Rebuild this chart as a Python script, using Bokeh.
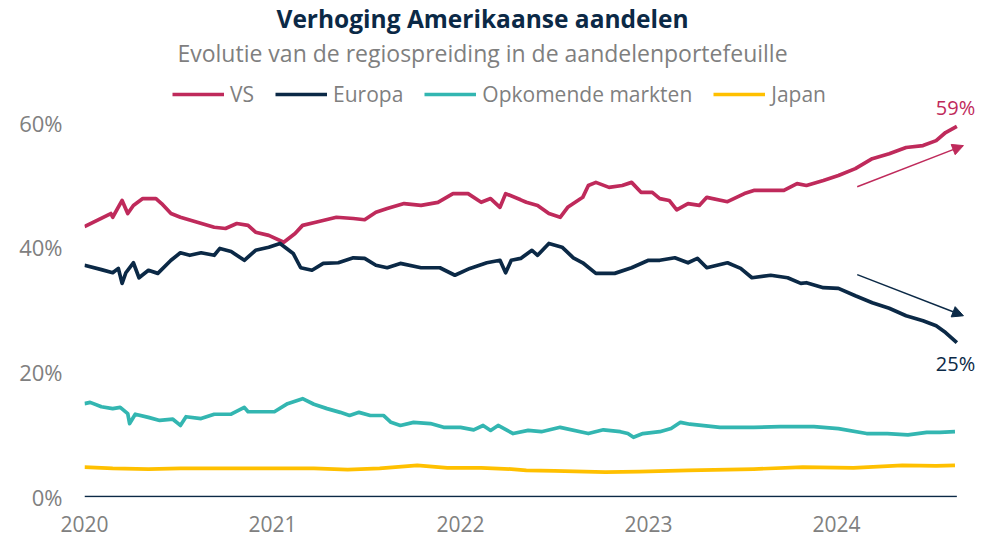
from bokeh.plotting import figure
from bokeh.models import (Range1d, FixedTicker, PrintfTickFormatter, Legend, LegendItem,
                          Label, Arrow, NormalHead)
from bokeh.embed import file_html
from bokeh.resources import INLINE

FONT = "Open Sans"
C_VS = "#BF2A5B"
C_EU = "#0B2946"
C_EM = "#33B6B1"
C_JP = "#FFC000"
GRAY = "#7F7F7F"

title_text = "Verhoging Amerikaanse aandelen"
subtitle_text = "Evolutie van de regiospreiding in de aandelenportefeuille"
series_names = ["VS", "Europa", "Opkomende markten", "Japan"]
year_ticks = [2020, 2021, 2022, 2023, 2024]
pct_ticks = [0, 20, 40, 60]

# time in decimal years, values in % of the equity portfolio
vs_t = [2020.00, 2020.14, 2020.15, 2020.20, 2020.23, 2020.26, 2020.31, 2020.38, 2020.41, 2020.46,
        2020.51, 2020.60, 2020.69, 2020.75, 2020.81, 2020.87, 2020.91, 2020.98, 2021.06, 2021.12,
        2021.16, 2021.23, 2021.34, 2021.43, 2021.49, 2021.55, 2021.61, 2021.70, 2021.79, 2021.88,
        2021.96, 2022.04, 2022.11, 2022.16, 2022.21, 2022.24, 2022.32, 2022.35, 2022.41, 2022.47,
        2022.53, 2022.57, 2022.65, 2022.68, 2022.72, 2022.79, 2022.86, 2022.91, 2022.96, 2023.02,
        2023.06, 2023.11, 2023.15, 2023.21, 2023.27, 2023.31, 2023.42, 2023.51, 2023.56, 2023.65,
        2023.72, 2023.79, 2023.84, 2023.93, 2024.01, 2024.10, 2024.19, 2024.28, 2024.37, 2024.46,
        2024.53, 2024.58, 2024.64]
vs_v = [43.3, 45.4, 44.8, 47.5, 45.4, 46.7, 47.8, 47.8, 47.0, 45.4,
        44.8, 44.0, 43.2, 43.0, 43.8, 43.5, 42.4, 41.9, 40.8, 42.2,
        43.5, 44.0, 44.8, 44.6, 44.4, 45.6, 46.2, 47.0, 46.7, 47.2,
        48.6, 48.6, 47.2, 47.8, 46.4, 48.6, 47.6, 47.2, 46.7, 45.4,
        44.8, 46.4, 48.0, 49.9, 50.4, 49.6, 49.9, 50.4, 48.8, 48.8,
        47.8, 47.5, 46.0, 47.0, 46.7, 48.0, 47.3, 48.6, 49.1, 49.1,
        49.1, 50.2, 49.9, 50.7, 51.5, 52.6, 54.2, 55.0, 56.0, 56.3,
        57.1, 58.4, 59.4]

eu_t = [2020.00, 2020.09, 2020.15, 2020.18, 2020.20, 2020.22, 2020.26, 2020.29, 2020.34, 2020.39,
        2020.46, 2020.51, 2020.56, 2020.62, 2020.69, 2020.72, 2020.78, 2020.85, 2020.91, 2020.98,
        2021.04, 2021.11, 2021.15, 2021.21, 2021.27, 2021.35, 2021.43, 2021.49, 2021.55, 2021.61,
        2021.68, 2021.79, 2021.89, 2021.97, 2022.05, 2022.14, 2022.21, 2022.24, 2022.27, 2022.32,
        2022.38, 2022.41, 2022.47, 2022.54, 2022.60, 2022.65, 2022.72, 2022.82, 2022.91, 2023.00,
        2023.06, 2023.14, 2023.21, 2023.26, 2023.31, 2023.42, 2023.49, 2023.55, 2023.65, 2023.74,
        2023.81, 2023.84, 2023.93, 2024.01, 2024.10, 2024.19, 2024.28, 2024.37, 2024.46, 2024.53,
        2024.58, 2024.64]
eu_v = [37.1, 36.4, 35.9, 36.6, 34.2, 35.9, 37.5, 35.1, 36.3, 35.8,
        37.9, 39.1, 38.7, 39.1, 38.7, 39.8, 39.3, 37.9, 39.5, 40.0,
        40.6, 39.0, 36.7, 36.3, 37.4, 37.5, 38.3, 38.2, 37.1, 36.7,
        37.4, 36.7, 36.7, 35.5, 36.6, 37.5, 37.9, 35.9, 37.9, 38.2,
        39.5, 38.7, 40.6, 40.0, 38.3, 37.5, 35.8, 35.8, 36.7, 37.9,
        37.9, 38.3, 37.5, 38.2, 36.7, 37.5, 36.6, 35.1, 35.5, 35.1,
        34.2, 34.3, 33.5, 33.4, 32.2, 31.1, 30.2, 29.0, 28.2, 27.4,
        26.3, 24.7]

em_t = [2020.00, 2020.03, 2020.09, 2020.15, 2020.19, 2020.23, 2020.24, 2020.27, 2020.34, 2020.40,
        2020.47, 2020.51, 2020.54, 2020.62, 2020.69, 2020.78, 2020.85, 2020.87, 2020.94, 2021.01,
        2021.08, 2021.16, 2021.22, 2021.29, 2021.36, 2021.41, 2021.46, 2021.52, 2021.59, 2021.63,
        2021.68, 2021.75, 2021.84, 2021.91, 2022.00, 2022.07, 2022.12, 2022.16, 2022.20, 2022.28,
        2022.36, 2022.43, 2022.53, 2022.68, 2022.76, 2022.85, 2022.89, 2022.92, 2022.97, 2023.06,
        2023.12, 2023.17, 2023.22, 2023.38, 2023.56, 2023.70, 2023.88, 2024.01, 2024.16, 2024.27,
        2024.38, 2024.48, 2024.55, 2024.63]
em_v = [14.9, 15.1, 14.4, 14.1, 14.3, 13.3, 11.7, 13.2, 12.7, 12.2,
        12.4, 11.4, 12.8, 12.5, 13.2, 13.2, 14.3, 13.6, 13.6, 13.6,
        14.9, 15.7, 14.8, 14.1, 13.5, 13.0, 13.5, 13.0, 13.0, 11.9,
        11.4, 11.9, 11.7, 11.1, 11.1, 10.7, 11.4, 10.6, 11.4, 10.1,
        10.6, 10.4, 11.1, 10.1, 10.7, 10.4, 10.1, 9.5, 10.1, 10.4,
        10.9, 11.9, 11.6, 11.1, 11.1, 11.2, 11.2, 10.9, 10.1, 10.1,
        9.9, 10.3, 10.3, 10.4]

jp_t = [2020.00, 2020.15, 2020.34, 2020.51, 2020.69, 2020.87, 2021.05, 2021.22, 2021.40, 2021.57,
        2021.77, 2021.93, 2022.11, 2022.27, 2022.35, 2022.50, 2022.77, 2022.95, 2023.21, 2023.56,
        2023.82, 2024.09, 2024.35, 2024.53, 2024.63]
jp_v = [4.7, 4.5, 4.4, 4.5, 4.5, 4.5, 4.5, 4.5, 4.3, 4.5,
        5.0, 4.6, 4.6, 4.4, 4.2, 4.1, 3.9, 4.0, 4.2, 4.4,
        4.7, 4.6, 5.0, 4.9, 5.0]

p = figure(width=995, height=539, output_backend="svg", toolbar_location=None,
           x_range=Range1d(2020, 2024.803), y_range=Range1d(-0.16, 79.58),
           min_border_left=84, min_border_right=8, min_border_top=0, min_border_bottom=42)
p.outline_line_color = None
p.grid.visible = False
p.background_fill_color = "white"
p.border_fill_color = "white"

# axes
for ax in (p.xaxis[0], p.yaxis[0]):
    ax.axis_line_color = None
    ax.major_tick_line_color = None
    ax.minor_tick_line_color = None
    ax.major_tick_out = 0
    ax.major_tick_in = 0
    ax.minor_tick_out = 0
    ax.minor_tick_in = 0
    ax.major_label_text_font = FONT
    ax.major_label_text_color = "#808080"

p.xaxis.major_label_text_font_size = "21px"
p.yaxis.major_label_text_font_size = "22px"
p.yaxis.ticker = FixedTicker(ticks=pct_ticks)
p.yaxis.formatter = PrintfTickFormatter(format="%d%%")
p.yaxis.major_label_standoff = 22
p.xaxis.ticker = FixedTicker(ticks=year_ticks)
p.xaxis.formatter = PrintfTickFormatter(format="%d")
p.xaxis.major_label_standoff = 18

# zero line
p.segment(x0=vs_t[0], y0=pct_ticks[0], x1=vs_t[-1], y1=pct_ticks[0], line_color=C_EU, line_width=1.5)

lw = 3.7
r_vs = p.line(vs_t, vs_v, line_color=C_VS, line_width=lw, line_join="round")
r_eu = p.line(eu_t, eu_v, line_color=C_EU, line_width=lw, line_join="round")
r_em = p.line(em_t, em_v, line_color=C_EM, line_width=lw, line_join="round")
r_jp = p.line(jp_t, jp_v, line_color=C_JP, line_width=lw, line_join="round")

legend = Legend(items=[LegendItem(label=n, renderers=[r]) for n, r in
                       zip(series_names, [r_vs, r_eu, r_em, r_jp])],
                orientation="horizontal", location=(88, 389),
                glyph_width=52, glyph_height=20, label_standoff=6, spacing=21,
                padding=0, margin=0, border_line_color=None, background_fill_alpha=0,
                label_text_font=FONT, label_text_font_size="21px", label_text_color=GRAY)
p.add_layout(legend)

# title / subtitle
p.add_layout(Label(x=2022.117, y=76.7, text=title_text, text_align="center", text_baseline="middle",
                   text_font=FONT, text_font_style="bold", text_font_size="24.5px", text_color=C_EU))
p.add_layout(Label(x=2022.117, y=71.2, text=subtitle_text, text_align="center", text_baseline="middle",
                   text_font=FONT, text_font_size="23px", text_color=GRAY))

# trend arrows
p.add_layout(Arrow(end=NormalHead(size=11, fill_color=C_VS, line_color=C_VS),
                   x_start=2024.11, y_start=49.7, x_end=2024.675, y_end=56.3,
                   line_color=C_VS, line_width=1.5))
p.add_layout(Arrow(end=NormalHead(size=11, fill_color=C_EU, line_color=C_EU),
                   x_start=2024.11, y_start=35.6, x_end=2024.675, y_end=29.0,
                   line_color=C_EU, line_width=1.5))

# end labels
p.add_layout(Label(x=2024.633, y=62.4, text=f"{round(vs_v[-1])}%", text_align="center",
                   text_baseline="middle", text_font=FONT, text_font_size="20px", text_color=C_VS))
p.add_layout(Label(x=2024.633, y=21.3, text=f"{round(eu_v[-1])}%", text_align="center",
                   text_baseline="middle", text_font=FONT, text_font_size="20px", text_color=C_EU))

open("out.html", "w").write(file_html(p, INLINE))
